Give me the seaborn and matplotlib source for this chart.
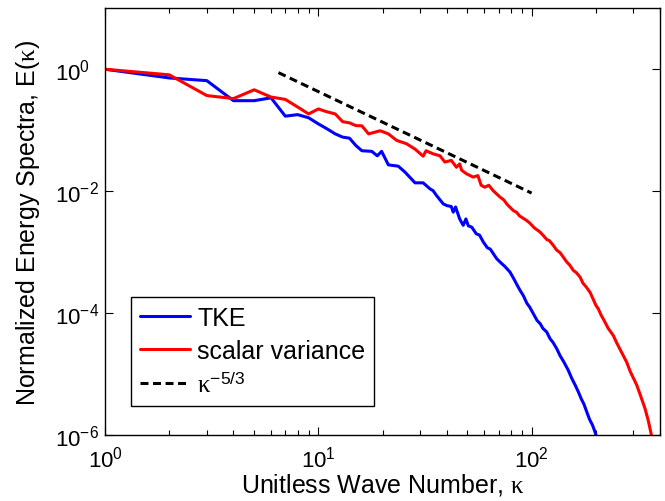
import numpy as np
import pandas as pd
import matplotlib
matplotlib.use("Agg")
import matplotlib.pyplot as plt
import seaborn as sns

# ---- data ----
tke_k = [1, 2, 3, 4, 5, 6, 7, 8, 9, 10, 11, 12, 13, 14, 15, 16, 17.8, 18.9, 19.8,
         21.3, 23.7, 25.5, 28.4, 31, 33.4, 34.5, 35.8, 38.5, 40, 42, 42.9, 44, 46,
         47.8, 49.2, 50.5, 52.4, 55, 57, 59.4, 62, 64, 68.6, 72, 75, 79.2, 82, 85,
         88, 91.4, 95, 98, 101.9, 106, 110, 113, 117.7, 122, 126, 131.2, 136, 142,
         148.6, 154, 160, 165.6, 171, 176, 181.3, 187, 193, 198.3, 203]
tke_E = [1.0, 0.72, 0.65, 0.305, 0.305, 0.34, 0.17, 0.18, 0.16, 0.127, 0.105, 0.087,
         0.077, 0.074, 0.056, 0.046, 0.045, 0.038, 0.045, 0.027, 0.0257, 0.0205,
         0.0137, 0.0137, 0.0109, 0.0102, 0.0085, 0.0062, 0.0058, 0.0056, 0.00453,
         0.0055, 0.0035, 0.00275, 0.0035, 0.0027, 0.00257, 0.0020, 0.0019, 0.00146,
         0.00118, 0.00112, 0.00078, 0.00066, 0.00058, 0.00047, 0.00038, 0.00030,
         0.00024, 0.000194, 0.000145, 0.000125, 9.75e-5, 7.6e-5, 6.6e-5, 5.6e-5,
         4.9e-5, 3.8e-5, 3.3e-5, 2.6e-5, 2.0e-5, 1.55e-5, 1.15e-5, 8.6e-6, 6.6e-6,
         5.1e-6, 3.9e-6, 3.2e-6, 2.4e-6, 1.8e-6, 1.45e-6, 1.12e-6, 8.5e-7]

scal_k = [1, 2, 3, 4, 5, 6, 7, 8, 9, 10, 11, 12, 13, 14, 15, 16, 17.2, 19.5, 21.3,
          23.3, 25.9, 28.4, 31, 32, 34.5, 37.2, 39.2, 42, 44.4, 46, 47, 49.6, 53.2,
          56, 58, 60.3, 63, 66, 71.1, 74, 77, 82.1, 85, 88, 94.8, 98, 103, 109.4,
          113, 118, 121, 126.4, 131, 136, 140, 146.1, 151, 157, 162, 168.7, 174, 180,
          187.8, 195, 200, 205.5, 212, 220, 228, 241.6, 250, 262, 279, 290, 300, 311,
          325, 340, 352, 363, 370]
scal_E = [1.0, 0.81, 0.37, 0.33, 0.46, 0.35, 0.32, 0.24, 0.185, 0.223, 0.20, 0.185,
          0.138, 0.132, 0.119, 0.118, 0.087, 0.098, 0.087, 0.068, 0.060, 0.049,
          0.0375, 0.046, 0.041, 0.038, 0.030, 0.032, 0.0247, 0.028, 0.022, 0.0192,
          0.017, 0.018, 0.0125, 0.0116, 0.0125, 0.0102, 0.0080, 0.0072, 0.0060,
          0.0048, 0.0045, 0.0039, 0.0033, 0.0030, 0.0025, 0.00214, 0.0019, 0.0016,
          0.00155, 0.00129, 0.00108, 0.00098, 0.00085, 0.00069, 0.00061, 0.00050,
          0.00046, 0.00039, 0.00031, 0.00027, 0.00022, 0.000165, 0.000135, 0.000117,
          9.2e-5, 7.3e-5, 5.7e-5, 4.28e-5, 3.3e-5, 2.4e-5, 1.57e-5, 1.1e-5, 8.6e-6,
          6.6e-6, 4.3e-6, 2.73e-6, 1.75e-6, 1.07e-6, 7.5e-7]

ref_k = [6.5, 100]
ref_E = [0.88, 0.0093]

labels = ["TKE", "scalar variance", r"$\mathrm{\kappa}^{\mathdefault{-5/3}}$"]
xticks = [1, 10, 100]
yticks = [1e-6, 1e-4, 1e-2, 1e0]

# ---- style ----
sns.set_style("ticks")
plt.rcParams["font.family"] = ["Liberation Sans", "DejaVu Sans"]
plt.rcParams["mathtext.fontset"] = "custom"
plt.rcParams["mathtext.rm"] = "Liberation Serif"
plt.rcParams["mathtext.it"] = "Liberation Serif:italic"
for key in ["text.color", "axes.labelcolor", "xtick.color", "ytick.color",
            "axes.edgecolor"]:
    plt.rcParams[key] = "black"
plt.rcParams["xtick.direction"] = "in"
plt.rcParams["ytick.direction"] = "in"

fig = plt.figure(figsize=(6.65, 5.02), dpi=100)
ax = fig.add_axes([0.158, 0.1315, 0.8345, 0.85])

df_t = pd.DataFrame({"k": tke_k, "E": tke_E})
df_s = pd.DataFrame({"k": scal_k, "E": scal_E})
df_r = pd.DataFrame({"k": ref_k, "E": ref_E})

lw = 2.2
sns.lineplot(data=df_t, x="k", y="E", ax=ax, color="#0000ff", lw=lw,
             estimator=None, sort=False, label=labels[0])
sns.lineplot(data=df_s, x="k", y="E", ax=ax, color="#ff0000", lw=lw,
             estimator=None, sort=False, label=labels[1])
sns.lineplot(data=df_r, x="k", y="E", ax=ax, color="black", lw=lw,
             estimator=None, sort=False, label=labels[2], dashes=False)
ax.lines[-1].set_dashes([2.6, 1.5])

ax.set_xscale("log")
ax.set_yscale("log")
ax.set_xlim(1, 400)
ax.set_ylim(1e-6, 10)
ax.set_yticks(yticks)
ax.yaxis.set_minor_locator(matplotlib.ticker.NullLocator())
ax.set_xticks(xticks)

ax.tick_params(which="both", top=True, right=True, labelsize=16, width=0.8)
ax.tick_params(which="major", length=6)
ax.tick_params(which="minor", length=3.5)
ax.tick_params(axis="x", which="both", pad=7.5)
ax.tick_params(axis="y", which="both", pad=36)
for lab in ax.get_yticklabels():
    lab.set_horizontalalignment("left")
for s in ax.spines.values():
    s.set_linewidth(1.0)
    s.set_color("black")

ax.set_xlabel("Unitless Wave Number, $\\mathrm{\\kappa}$", fontsize=18)
ax.set_ylabel("Normalized Energy Spectra, E($\\mathrm{\\kappa}$)", fontsize=18)
ax.xaxis.set_label_coords(0.5, -0.085)
ax.yaxis.set_label_coords(-0.1135, 0.5)

leg = ax.legend(loc="lower left", bbox_to_anchor=(0.047, 0.068), borderaxespad=0,
                fontsize=18, handlelength=2.0, handletextpad=0.3,
                labelspacing=0.36, borderpad=0.35, fancybox=False, framealpha=1)
leg.get_frame().set_edgecolor("black")
leg.get_frame().set_linewidth(1.0)

fig.savefig("out.png", dpi=100)
